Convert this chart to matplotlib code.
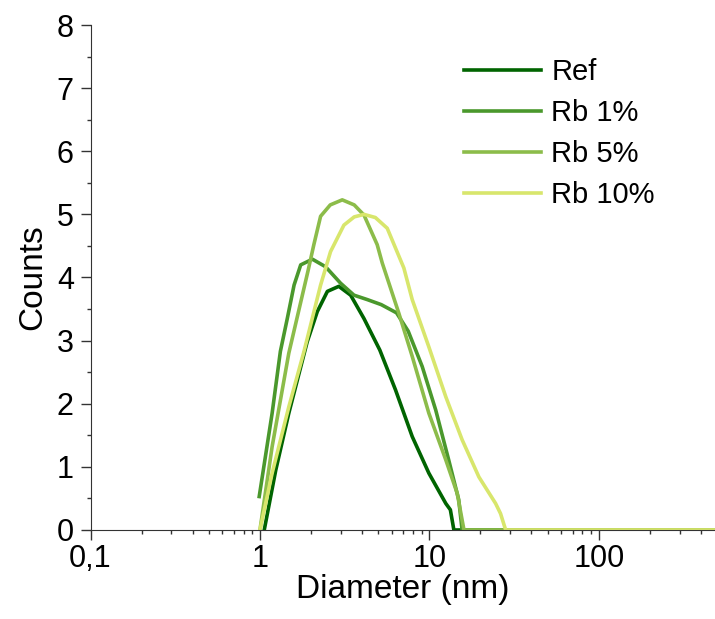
import matplotlib
matplotlib.use("Agg")
import matplotlib.pyplot as plt
from matplotlib.ticker import FixedLocator, FuncFormatter, LogLocator, MultipleLocator

plt.rcParams['font.family'] = ['Liberation Sans', 'DejaVu Sans']

# size distributions (diameter in nm, counts)
ref_d = [1.06, 1.24, 1.48, 1.90, 2.18, 2.5, 2.92, 3.43, 4.11, 5.1, 6.31, 7.92, 9.93, 12.5, 13.3, 13.95, 485]
ref_c = [0.0, 0.95, 1.85, 2.98, 3.46, 3.78, 3.86, 3.72, 3.35, 2.85, 2.22, 1.48, 0.9, 0.42, 0.32, 0.0, 0.0]

rb1_d = [0.99, 1.18, 1.32, 1.45, 1.59, 1.74, 2.04, 2.44, 2.99, 3.59, 4.3, 5.2, 6.4, 7.5, 9.07, 10.9, 13.0, 14.9, 15.6, 485]
rb1_c = [0.53, 1.85, 2.83, 3.35, 3.88, 4.2, 4.29, 4.17, 3.91, 3.72, 3.65, 3.57, 3.44, 3.15, 2.59, 1.9, 1.11, 0.48, 0.0, 0.0]

rb5_d = [1.0, 1.18, 1.48, 1.92, 2.08, 2.28, 2.6, 3.06, 3.6, 4.11, 4.92, 5.27, 6.61, 7.92, 9.93, 12.5, 14.6, 16.0, 485]
rb5_c = [0.0, 1.32, 2.8, 4.1, 4.52, 4.97, 5.15, 5.23, 5.15, 4.99, 4.52, 4.23, 3.43, 2.75, 1.85, 1.11, 0.58, 0.0, 0.0]

rb10_d = [1.0, 1.18, 1.48, 1.82, 2.28, 2.61, 3.13, 3.6, 4.11, 4.8, 5.64, 7.07, 7.92, 9.93, 12.5, 15.6, 19.6, 24.6, 26.3, 28.2, 485]
rb10_c = [0.0, 0.9, 1.95, 2.83, 3.88, 4.41, 4.83, 4.96, 5.0, 4.95, 4.78, 4.15, 3.65, 2.9, 2.11, 1.43, 0.84, 0.42, 0.26, 0.0, 0.0]

labels = ["Ref", "Rb 1%", "Rb 5%", "Rb 10%"]
colors = ["#006400", "#4a982c", "#8cbc4a", "#d8e66c"]

fig = plt.figure(figsize=(7.15, 6.19), dpi=100)
ax = fig.add_axes([0.1266, 0.1438, 0.8734, 0.8158])

series = [(ref_d, ref_c), (rb1_d, rb1_c), (rb5_d, rb5_c), (rb10_d, rb10_c)]
for (d, c), lab, col in zip(series, labels, colors):
    ax.plot(d, c, color=col, lw=2.6, label=lab, solid_joinstyle='round')

ax.set_xscale('log')
ax.set_xlim(0.1, 485)
ax.set_ylim(0, 8)

ax.spines['top'].set_visible(False)
ax.spines['right'].set_visible(False)
ax.spines['left'].set_color('#333333')
ax.spines['bottom'].set_color('#333333')

ax.xaxis.set_major_locator(FixedLocator([0.1, 1, 10, 100]))
ax.xaxis.set_major_formatter(FuncFormatter(lambda v, p: "0,1" if v < 0.5 else "%d" % v))
ax.xaxis.set_minor_locator(LogLocator(base=10, subs=range(2, 10)))
ax.yaxis.set_major_locator(MultipleLocator(1))
ax.yaxis.set_minor_locator(MultipleLocator(0.5))

ax.tick_params(which='major', direction='out', length=7, width=1, labelsize=22, color='#333333')
ax.tick_params(which='minor', direction='out', length=3, width=1, color='#333333')
ax.tick_params(axis='x', pad=3)
ax.tick_params(axis='y', pad=5)

ax.set_xlabel("Diameter (nm)", fontsize=24, labelpad=0)
ax.set_ylabel("Counts", fontsize=24, labelpad=6)

ax.legend(loc='upper left', bbox_to_anchor=(0.598, 0.935), frameon=False, fontsize=21,
          handlelength=2.65, handletextpad=0.35, labelspacing=0.45, borderaxespad=0,
          borderpad=0)

fig.savefig("out.png", dpi=100)
